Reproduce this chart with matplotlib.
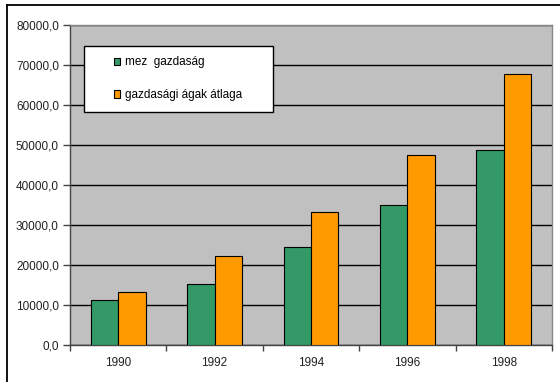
import matplotlib
matplotlib.use("Agg")
import matplotlib.pyplot as plt
import numpy as np
from matplotlib.patches import Rectangle, Patch
from matplotlib.lines import Line2D

plt.rcParams['font.family'] = ['Liberation Sans', 'DejaVu Sans']

years = ["1990", "1992", "1994", "1996", "1998"]
mezogazdasag = [11200, 15250, 24500, 35000, 48800]
atlag = [13300, 22300, 33250, 47400, 67800]
series_names = ["mez  gazdaság", "gazdasági ágak átlaga"]
y_ticks = [0, 10000, 20000, 30000, 40000, 50000, 60000, 70000, 80000]

green = "#339966"
orange = "#FF9900"

W, H = 560, 382
fig = plt.figure(figsize=(W / 100, H / 100), dpi=100)
fig.patch.set_facecolor("white")

ax = fig.add_axes([70 / W, 1 - 345 / H, (552 - 70) / W, (345 - 25) / H])
ax.set_facecolor("#C0C0C0")

x = np.arange(len(years))
bw = 0.285
b1 = ax.bar(x - bw / 2, mezogazdasag, bw, color=green, edgecolor="black", linewidth=0.8, zorder=3)
b2 = ax.bar(x + bw / 2, atlag, bw, color=orange, edgecolor="black", linewidth=0.8, zorder=3)

ax.set_xlim(-0.5, len(years) - 0.5)
ax.set_ylim(0, 80000)
ax.set_yticks(y_ticks)
ax.set_yticklabels([f"{v:.1f}".replace(".", ",") for v in y_ticks])
ax.yaxis.grid(True, color="black", linewidth=1.0, zorder=1)
ax.set_axisbelow(True)

ax.set_xticks(x)
ax.set_xticklabels(years)
ax.set_xticks(np.arange(len(years) + 1) - 0.5, minor=True)
ax.tick_params(axis="x", which="major", length=0, pad=9, labelsize=8.5, colors="#222222")
ax.tick_params(axis="x", which="minor", length=4, width=1, color="#444444", direction="out")
ax.tick_params(axis="y", length=5, width=1, color="#444444", labelsize=8.5, pad=3, colors="#222222")
ax.tick_params(axis="y", color="#444444")

for side in ["left", "bottom"]:
    ax.spines[side].set_color("#444444")
    ax.spines[side].set_linewidth(1.0)
for side in ["top", "right"]:
    ax.spines[side].set_color("#888888")
    ax.spines[side].set_linewidth(1.0)

# legend box
fig.patches.append(Rectangle((84 / W, 1 - 111.5 / H), (273 - 84) / W, (111.5 - 46.5) / H,
                             transform=fig.transFigure, facecolor="white",
                             edgecolor="black", linewidth=1.0, zorder=5))
handles = [Patch(facecolor=green, edgecolor="black", linewidth=0.8),
           Patch(facecolor=orange, edgecolor="black", linewidth=0.8)]
leg = fig.legend(handles, series_names, loc="upper left",
                 bbox_to_anchor=(114 / W, 1 - 56.5 / H), frameon=False,
                 fontsize=8.5, handlelength=0.55, handleheight=0.55,
                 handletextpad=0.4, labelspacing=1.75, borderpad=0,
                 borderaxespad=0)
leg.set_zorder(6)

# outer chart frame
fig.add_artist(Line2D([7 / W, 7 / W], [0, 1 - 4.5 / H], transform=fig.transFigure,
                      color="black", linewidth=1.3))
fig.add_artist(Line2D([7 / W, 1], [1 - 4.5 / H, 1 - 4.5 / H], transform=fig.transFigure,
                      color="black", linewidth=1.3))

fig.savefig("out.png", dpi=100, facecolor="white")
